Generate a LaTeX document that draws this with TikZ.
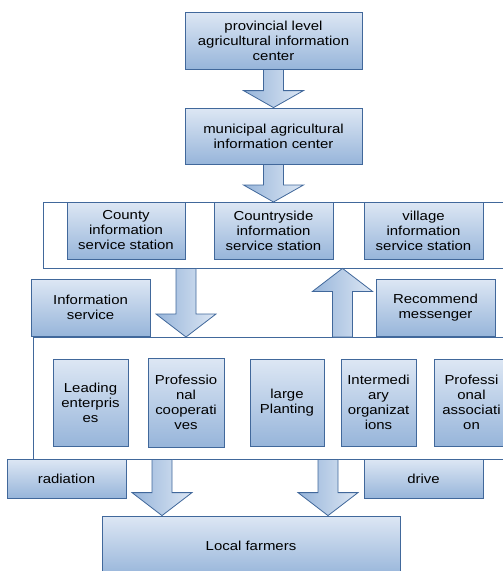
\documentclass[tikz,border=0pt]{standalone}
\usepackage{fontspec}
\setmainfont[FakeStretch=1.15]{Liberation Sans}
\usetikzlibrary{calc}
\definecolor{boxtop}{HTML}{DDE7F4}
\definecolor{boxbot}{HTML}{97B5DA}
\definecolor{boxline}{HTML}{41689B}
\newcommand\blockarr[3]{%
  \draw[barrow] let \p1=#1, \p2=#2 in
    (\x1-10pt,\y1) -- (\x1+10pt,\y1) -- (\x1+10pt,\y2+#3) -- (\x1+30pt,\y2+#3)
    -- (\x1,\y2) -- (\x1-30pt,\y2+#3) -- (\x1-10pt,\y2+#3) -- cycle;}
\begin{document}
\begin{tikzpicture}[x=1pt,y=-1pt,
  box/.style={draw=boxline, line width=0.8pt, top color=boxtop, bottom color=boxbot,
    inner sep=0pt, align=center, font=\fontsize{13}{15}\selectfont},
  frame/.style={fill=white, inner sep=0pt},
  frameline/.style={draw=boxline, line width=0.8pt},
  barrow/.style={draw=boxline, line width=0.8pt, left color=boxbot, right color=boxtop}]
\useasboundingbox (0,0) rectangle (503,571);
\clip (0,0) rectangle (503,571);
% top chain
\node[box, minimum width=177, minimum height=57] (prov) at (273.5,40.5)
  {provincial level\\agricultural information\\center};
\node[box, minimum width=177, minimum height=56] (muni) at (273.5,136)
  {municipal agricultural\\information center};
\blockarr{(prov.south)}{(muni.north)}{17pt}
% first frame (open to the right, runs past the edge)
\node[frame, minimum width=480, minimum height=66, anchor=north west] (f1) at (43,202) {};
\draw[frameline] (f1.north east) -- (f1.north west) -- (f1.south west) -- (f1.south east);
\blockarr{(muni.south)}{(muni.south |- f1.north)}{17pt}
\node[box, minimum width=118, minimum height=57] (county) at (126,230.5)
  {County\\information\\service station};
\node[box, minimum width=119, minimum height=57] (cside) at (273.5,230.5)
  {Countryside\\information\\service station};
\node[box, minimum width=119, minimum height=57] (village) at (423.5,230.5)
  {village\\information\\service station};
% second frame
\node[frame, minimum width=490, minimum height=122, anchor=north west] (f2) at (33,337) {};
\draw[frameline] (f2.north east) -- (f2.north west) -- (f2.south west) -- (f2.south east);
\node[box, minimum width=119, minimum height=57] (info) at (90.5,307.5)
  {Information\\service};
\node[box, minimum width=119, minimum height=57] (recom) at (435.5,307.5)
  {Recommend\\messenger};
\coordinate (dx) at (186,0);
\coordinate (ux) at (342.5,0);
\blockarr{(f1.south -| dx)}{(f2.north -| dx)}{23pt}
\blockarr{(f2.north -| ux)}{(f1.south -| ux)}{-23pt}
% actors
\node[box, minimum width=75, minimum height=87] (lead) at (90.5,402.5)
  {Leading\\enterpris\\es};
\node[box, minimum width=76, minimum height=89] (coop) at (186,402.5)
  {Professio\\nal\\cooperati\\ves};
\node[box, minimum width=74, minimum height=87] (plant) at (287,402.5)
  {large\\Planting};
\node[box, minimum width=75, minimum height=87] (inter) at (378.5,402.5)
  {Intermedi\\ary\\organizat\\ions};
\node[box, minimum width=75, minimum height=87] (assoc) at (471.5,402.5)
  {Professi\\onal\\associati\\on};
% bottom
\node[box, minimum width=119, minimum height=39] (rad) at (66.5,478.5) {radiation};
\node[box, minimum width=119, minimum height=39] (drive) at (423.5,478.5) {drive};
\node[box, minimum width=298, minimum height=60] (farm) at (251,546) {Local farmers};
\coordinate (lx) at (162,0);
\coordinate (rx) at (328,0);
\blockarr{(f2.south -| lx)}{(farm.north -| lx)}{23pt}
\blockarr{(f2.south -| rx)}{(farm.north -| rx)}{23pt}
\end{tikzpicture}
\end{document}
